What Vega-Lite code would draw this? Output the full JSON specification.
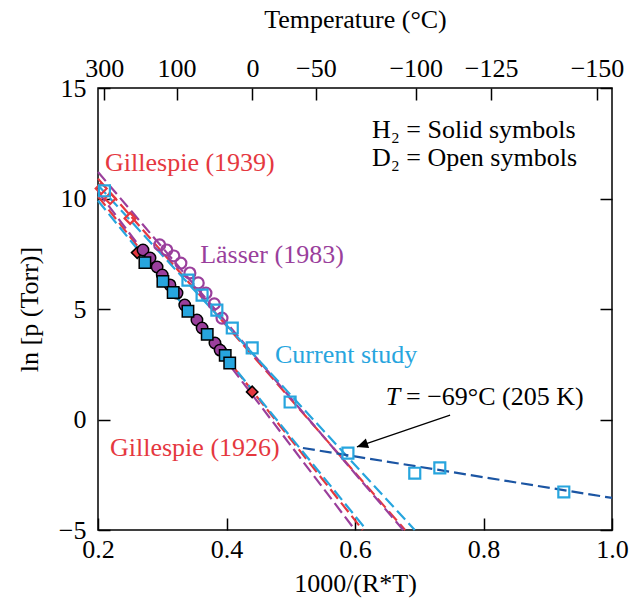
{
  "$schema": "https://vega.github.io/schema/vega-lite/v6.json",
  "width": 514,
  "height": 442,
  "autosize": {"type": "none"},
  "padding": {"left": 98, "top": 88, "right": 19, "bottom": 72},
  "background": "white",
  "config": {
    "font": "Liberation Serif",
    "view": {"stroke": "black", "strokeWidth": 1.5},
    "axis": {
      "domain": false,
      "grid": false,
      "labelFlush": false,
      "labelOverlap": false,
      "tickColor": "black",
      "tickSize": -12,
      "tickWidth": 1.5,
      "labelFont": "Liberation Serif",
      "titleFont": "Liberation Serif",
      "labelFontSize": 26,
      "titleFontSize": 26,
      "labelColor": "black",
      "titleColor": "black",
      "titleFontWeight": "normal"
    }
  },
  "datasets": {
    "lines": [
      {"line": "G39_D2", "source": "Gillespie", "x": 0.2, "y": 10.9},
      {"line": "G39_D2", "source": "Gillespie", "x": 0.678, "y": -5},
      {"line": "L_D2", "source": "Lässer", "x": 0.2, "y": 11.2},
      {"line": "L_D2", "source": "Lässer", "x": 0.675, "y": -5},
      {"line": "C_D2", "source": "Current", "x": 0.2, "y": 10.6},
      {"line": "C_D2", "source": "Current", "x": 0.693, "y": -5},
      {"line": "G26_H2", "source": "Gillespie", "x": 0.2, "y": 10.1},
      {"line": "G26_H2", "source": "Gillespie", "x": 0.612, "y": -5},
      {"line": "L_H2", "source": "Lässer", "x": 0.2, "y": 10.3},
      {"line": "L_H2", "source": "Lässer", "x": 0.6, "y": -5},
      {"line": "C_H2", "source": "Current", "x": 0.2, "y": 9.9},
      {"line": "C_H2", "source": "Current", "x": 0.618, "y": -5},
      {"line": "LowT", "source": "LowT", "x": 0.519, "y": -1.29},
      {"line": "LowT", "source": "LowT", "x": 1.0, "y": -3.55}
    ],
    "h2": [
      {"source": "Gillespie", "x": 0.261, "y": 7.55},
      {"source": "Gillespie", "x": 0.339, "y": 5.0},
      {"source": "Gillespie", "x": 0.39, "y": 3.2},
      {"source": "Gillespie", "x": 0.44, "y": 1.25},
      {"source": "Lässer", "x": 0.27, "y": 7.67},
      {"source": "Lässer", "x": 0.281, "y": 7.31},
      {"source": "Lässer", "x": 0.292, "y": 6.9},
      {"source": "Lässer", "x": 0.3, "y": 6.54},
      {"source": "Lässer", "x": 0.312, "y": 6.09},
      {"source": "Lässer", "x": 0.323, "y": 5.72},
      {"source": "Lässer", "x": 0.335, "y": 5.18},
      {"source": "Lässer", "x": 0.354, "y": 4.5},
      {"source": "Lässer", "x": 0.362, "y": 4.14},
      {"source": "Lässer", "x": 0.382, "y": 3.46},
      {"source": "Lässer", "x": 0.39, "y": 3.14},
      {"source": "Current", "x": 0.273, "y": 7.1},
      {"source": "Current", "x": 0.301, "y": 6.25},
      {"source": "Current", "x": 0.317, "y": 5.75},
      {"source": "Current", "x": 0.34, "y": 4.9},
      {"source": "Current", "x": 0.37, "y": 3.85},
      {"source": "Current", "x": 0.398, "y": 2.9},
      {"source": "Current", "x": 0.405, "y": 2.56}
    ],
    "d2": [
      {"source": "Gillespie", "x": 0.205, "y": 10.45},
      {"source": "Gillespie", "x": 0.219, "y": 10.0},
      {"source": "Gillespie", "x": 0.25, "y": 9.1},
      {"source": "Lässer", "x": 0.296, "y": 7.9},
      {"source": "Lässer", "x": 0.307, "y": 7.67},
      {"source": "Lässer", "x": 0.318, "y": 7.4},
      {"source": "Lässer", "x": 0.329, "y": 7.08},
      {"source": "Lässer", "x": 0.343, "y": 6.63},
      {"source": "Lässer", "x": 0.356, "y": 6.18},
      {"source": "Lässer", "x": 0.368, "y": 5.72},
      {"source": "Lässer", "x": 0.381, "y": 5.23},
      {"source": "Lässer", "x": 0.393, "y": 4.59},
      {"source": "Current", "x": 0.21, "y": 10.35},
      {"source": "Current", "x": 0.34, "y": 6.31},
      {"source": "Current", "x": 0.362, "y": 5.63},
      {"source": "Current", "x": 0.385, "y": 4.95},
      {"source": "Current", "x": 0.409, "y": 4.14},
      {"source": "Current", "x": 0.44, "y": 3.24},
      {"source": "Current", "x": 0.499, "y": 0.79},
      {"source": "Current", "x": 0.589, "y": -1.52},
      {"source": "Current", "x": 0.693, "y": -2.43},
      {"source": "Current", "x": 0.732, "y": -2.19},
      {"source": "Current", "x": 0.925, "y": -3.28}
    ],
    "labels": [
      {"text": "Gillespie (1939)", "source": "Gillespie", "x": 0.211, "y": 11.24},
      {"text": "Lässer (1983)", "source": "Lässer", "x": 0.359, "y": 7.08},
      {"text": "Current study", "source": "Current", "x": 0.4755, "y": 2.56},
      {"text": "Gillespie (1926)", "source": "Gillespie", "x": 0.2187, "y": -1.65},
      {"text": "H₂ = Solid symbols", "source": "Note", "x": 0.6265, "y": 12.74},
      {"text": "D₂ = Open symbols", "source": "Note", "x": 0.6265, "y": 11.47},
      {"text": "= −69°C (205 K)", "source": "Note", "x": 0.6794, "y": 0.66}
    ],
    "italic": [
      {"text": "T", "x": 0.648, "y": 0.66}
    ],
    "arrow": [
      {"x": 0.748, "y": 0.2, "x2": 0.603, "y2": -1.24}
    ]
  },
  "layer": [
    {
      "data": {"name": "lines"},
      "mark": {"type": "line", "strokeDash": [12, 5], "strokeWidth": 2.2},
      "encoding": {
        "x": {"field": "x", "type": "quantitative", "scale": {"domain": [0.2, 1.0], "nice": false, "zero": false},
          "axis": {"orient": "bottom", "values": [0.2, 0.4, 0.6, 0.8, 1.0], "format": ".1f", "title": "1000/(R*T)", "labelPadding": 18, "titlePadding": 8}},
        "y": {"field": "y", "type": "quantitative", "scale": {"domain": [-5, 15], "nice": false, "zero": false},
          "axis": {"orient": "left", "values": [-5, 0, 5, 10, 15], "title": "ln [p (Torr)]", "labelPadding": 24, "titlePadding": 16}},
        "color": {"field": "source", "type": "nominal", "legend": null,
          "scale": {"domain": ["Gillespie", "Lässer", "Current", "LowT", "Note"], "range": ["#e5383f", "#9a3f9c", "#27a5de", "#1b55a3", "#000000"]}},
        "detail": {"field": "line"}
      }
    },
    {
      "data": {"name": "h2"},
      "mark": {"type": "point", "filled": true, "stroke": "black", "strokeWidth": 1.5, "opacity": 1, "size": 130},
      "encoding": {
        "x": {"field": "x", "type": "quantitative", "axis": null},
        "y": {"field": "y", "type": "quantitative", "axis": null},
        "fill": {"field": "source", "type": "nominal", "legend": null,
          "scale": {"domain": ["Gillespie", "Lässer", "Current"], "range": ["#e5383f", "#9a3f9c", "#27a5de"]}},
        "shape": {"field": "source", "type": "nominal", "legend": null,
          "scale": {"domain": ["Gillespie", "Lässer", "Current"], "range": ["diamond", "circle", "square"]}}
      }
    },
    {
      "data": {"name": "d2"},
      "mark": {"type": "point", "filled": false, "strokeWidth": 2.2, "opacity": 1, "size": 120},
      "encoding": {
        "x": {"field": "x", "type": "quantitative",
          "axis": {"orient": "top", "values": [0.2099, 0.3223, 0.4403, 0.539, 0.6946, 0.8119, 0.9767],
            "labelExpr": "format(round(1000/(8.314*datum.value)-273.15), 'd')", "title": "Temperature (°C)", "labelPadding": 19, "titlePadding": 23}},
        "y": {"field": "y", "type": "quantitative",
          "axis": {"orient": "right", "values": [-5, 0, 5, 10, 15], "labels": false, "title": null}},
        "color": {"field": "source", "type": "nominal", "legend": null},
        "shape": {"field": "source", "type": "nominal", "legend": null}
      }
    },
    {
      "data": {"name": "arrow"},
      "mark": {"type": "rule", "color": "black", "strokeWidth": 1.2},
      "encoding": {
        "x": {"field": "x", "type": "quantitative", "axis": null},
        "y": {"field": "y", "type": "quantitative", "axis": null},
        "x2": {"field": "x2"},
        "y2": {"field": "y2"}
      }
    },
    {
      "data": {"name": "arrow"},
      "mark": {"type": "point", "filled": true, "color": "black", "opacity": 1, "shape": "M0,0L0.45,1L-0.45,1Z", "size": 500, "angle": 251},
      "encoding": {
        "x": {"field": "x2", "type": "quantitative", "axis": null},
        "y": {"field": "y2", "type": "quantitative", "axis": null}
      }
    },
    {
      "data": {"name": "labels"},
      "mark": {"type": "text", "align": "left", "baseline": "alphabetic", "fontSize": 26, "font": "Liberation Serif"},
      "encoding": {
        "x": {"field": "x", "type": "quantitative", "axis": null},
        "y": {"field": "y", "type": "quantitative", "axis": null},
        "text": {"field": "text"},
        "color": {"field": "source", "type": "nominal", "legend": null}
      }
    },
    {
      "data": {"name": "italic"},
      "mark": {"type": "text", "align": "left", "baseline": "alphabetic", "fontSize": 26, "font": "Liberation Serif", "fontStyle": "italic", "color": "black"},
      "encoding": {
        "x": {"field": "x", "type": "quantitative", "axis": null},
        "y": {"field": "y", "type": "quantitative", "axis": null},
        "text": {"field": "text"}
      }
    }
  ],
  "resolve": {"axis": {"x": "independent", "y": "independent"}}
}
